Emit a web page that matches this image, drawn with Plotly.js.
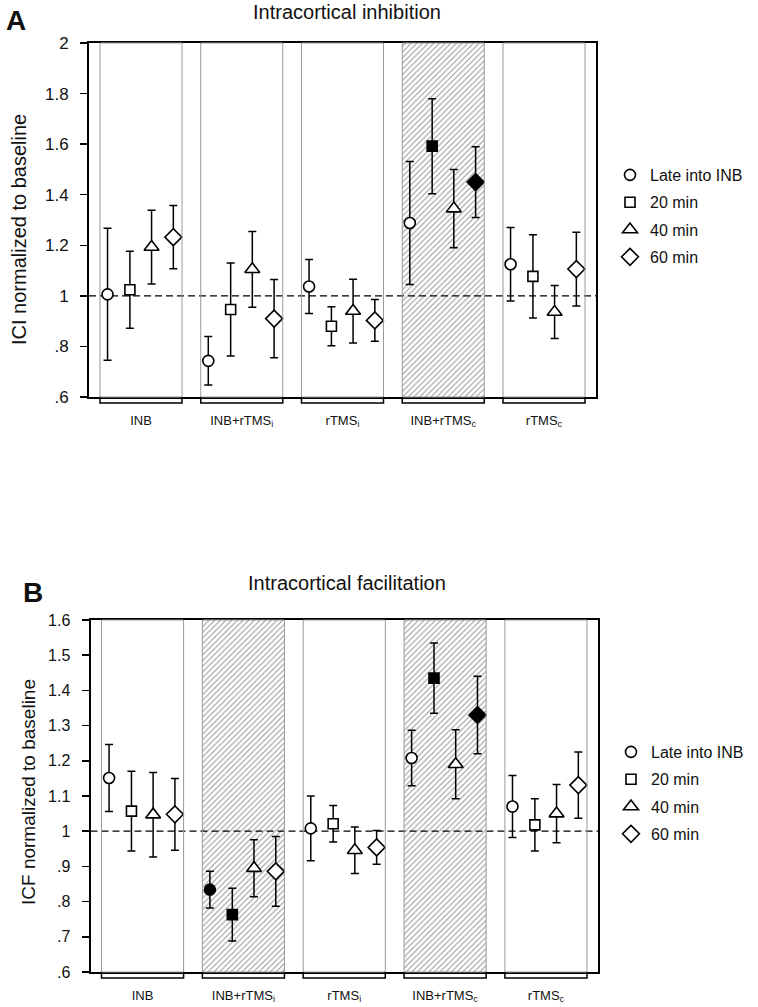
<!DOCTYPE html>
<html><head><meta charset="utf-8">
<script src="https://cdn.plot.ly/plotly-3.0.1.min.js"></script>
<style>body{margin:0;background:#fff}#chart{width:758px;height:1007px}</style>
</head><body><div id="chart"></div>
<script>
// ---------- DATA ----------
const groups = ['INB', 'INB+rTMS<sub>i</sub>', 'rTMS<sub>i</sub>', 'INB+rTMS<sub>c</sub>', 'rTMS<sub>c</sub>'];
const seriesNames = ['Late into INB', '20 min', '40 min', '60 min'];

// Panel A: Intracortical inhibition (ICI normalized to baseline)
const iciLate   = [1.006, 0.743, 1.037, 1.288, 1.125];
const iciLateSE = [0.261, 0.096, 0.107, 0.243, 0.145];
const ici20     = [1.024, 0.946, 0.880, 1.592, 1.077];
const ici20SE   = [0.152, 0.184, 0.077, 0.188, 0.165];
const ici40     = [1.193, 1.105, 0.940, 1.345, 0.936];
const ici40SE   = [0.146, 0.150, 0.126, 0.155, 0.105];
const ici60     = [1.232, 0.910, 0.903, 1.450, 1.106];
const ici60SE   = [0.125, 0.155, 0.083, 0.140, 0.146];
// significant (filled) points
const iciSigLate = [0, 0, 0, 0, 0];
const iciSig20   = [0, 0, 0, 1, 0];
const iciSig40   = [0, 0, 0, 0, 0];
const iciSig60   = [0, 0, 0, 1, 0];
const iciHatched = [0, 0, 0, 1, 0];

// Panel B: Intracortical facilitation (ICF normalized to baseline)
const icfLate   = [1.151, 0.834, 1.008, 1.208, 1.070];
const icfLateSE = [0.095, 0.052, 0.092, 0.079, 0.088];
const icf20     = [1.057, 0.763, 1.021, 1.435, 1.018];
const icf20SE   = [0.113, 0.075, 0.052, 0.100, 0.074];
const icf40     = [1.047, 0.895, 0.946, 1.190, 1.050];
const icf40SE   = [0.120, 0.081, 0.066, 0.098, 0.083];
const icf60     = [1.048, 0.886, 0.954, 1.330, 1.131];
const icf60SE   = [0.102, 0.099, 0.048, 0.110, 0.094];
const icfSigLate = [0, 1, 0, 0, 0];
const icfSig20   = [0, 1, 0, 1, 0];
const icfSig40   = [0, 0, 0, 0, 0];
const icfSig60   = [0, 0, 0, 1, 0];
const icfHatched = [0, 1, 0, 1, 0];

const iciTickVals = [0.6, 0.8, 1, 1.2, 1.4, 1.6, 1.8, 2];
const iciTickText = ['.6', '.8', '1', '1.2', '1.4', '1.6', '1.8', '2'];
const icfTickVals = [0.6, 0.7, 0.8, 0.9, 1, 1.1, 1.2, 1.3, 1.4, 1.5, 1.6];
const icfTickText = ['.6', '.7', '.8', '.9', '1', '1.1', '1.2', '1.3', '1.4', '1.5', '1.6'];

// ---------- STYLE / LAYOUT ----------
const FONT = 'Arial, "Liberation Sans", Helvetica, sans-serif';
const W = 0.814;                       // group box width (in group units)
const offs = [0.075, 0.297, 0.512, 0.728];
const symbols = ['circle', 'square', 'triangle-up', 'diamond'];
const sizes = [11, 10, 13, 13];
const XR = [-0.109, 4.923];
const PW = 758, PH = 1007;

function panel(opts) {
  const {means, errs, sig, hatched, yr, xa, ya, legendId} = opts;
  const traces = [];
  const hx = [];
  hatched.forEach((h, g) => { if (h) hx.push(g + W / 2); });
  traces.push({
    type: 'bar', x: hx, y: hx.map(() => yr[1] - yr[0]), base: yr[0], width: W,
    xaxis: xa, yaxis: ya, showlegend: false, hoverinfo: 'skip',
    marker: {color: '#f8f8f8', line: {width: 0},
      pattern: {shape: '/', fgcolor: '#999999', size: 4, solidity: 0.28}}
  });
  traces.push({
    type: 'scatter', mode: 'lines', x: XR, y: [1, 1], xaxis: xa, yaxis: ya,
    showlegend: false, hoverinfo: 'skip',
    line: {color: 'black', width: 1.2, dash: '7px,4px'}
  });
  means.forEach((m, s) => {
    traces.push({
      type: 'scatter', mode: 'markers', name: seriesNames[s],
      x: m.map((_, g) => g + offs[s]), y: m, xaxis: xa, yaxis: ya,
      legend: legendId, legendgroup: legendId + s,
      error_y: {type: 'data', array: errs[s], visible: true, color: 'black', thickness: 1.5, width: 4},
      marker: {symbol: symbols[s], size: sizes[s],
        color: sig[s].map(f => f ? 'black' : 'white'),
        line: {color: 'black', width: 1.6}}
    });
  });
  return traces;
}

const traces = [].concat(
  panel({means: [iciLate, ici20, ici40, ici60], errs: [iciLateSE, ici20SE, ici40SE, ici60SE],
    sig: [iciSigLate, iciSig20, iciSig40, iciSig60], hatched: iciHatched, yr: [0.6, 2],
    xa: 'x', ya: 'y', legendId: 'legend'}),
  panel({means: [icfLate, icf20, icf40, icf60], errs: [icfLateSE, icf20SE, icf40SE, icf60SE],
    sig: [icfSigLate, icfSig20, icfSig40, icfSig60], hatched: icfHatched, yr: [0.6, 1.6],
    xa: 'x2', ya: 'y2', legendId: 'legend2'})
);

const domA = {x: [89 / PW, 596 / PW], y: [1 - 397 / PH, 1 - 43 / PH]};
const domB = {x: [90.5 / PW, 598 / PW], y: [1 - 972 / PH, 1 - 620 / PH]};

function xaxisDef(dom, anchor) {
  return {domain: dom, anchor: anchor, range: XR, showgrid: false, zeroline: false,
    showline: true, linecolor: 'black', linewidth: 2, mirror: true, ticks: '',
    tickvals: groups.map((_, g) => g + W / 2), ticktext: groups, ticklabelstandoff: 10,
    tickfont: {family: FONT, size: 13, color: '#111'}, fixedrange: true};
}
function yaxisDef(dom, anchor, yr, tv, tt, fs) {
  return {domain: dom, anchor: anchor, range: yr, showgrid: false, zeroline: false,
    showline: true, linecolor: 'black', linewidth: 2, mirror: true,
    ticks: 'outside', ticklen: 7, tickwidth: 1.5, tickcolor: 'black',
    tickvals: tv, ticktext: tt, ticklabelstandoff: 8,
    tickfont: {family: FONT, size: fs, color: '#111'}, fixedrange: true};
}

const shapes = [];
function addPanelShapes(xa, ya, dom) {
  groups.forEach((_, g) => {
    shapes.push({type: 'rect', xref: xa, yref: ya + ' domain', x0: g, x1: g + W, y0: 0, y1: 1,
      line: {color: '#9a9a9a', width: 1}, fillcolor: 'rgba(0,0,0,0)', layer: 'above'});
    const d0 = dom.y[0], d1 = dom.y[0] - 6 / PH;
    shapes.push({type: 'path', xref: xa, yref: 'paper',
      path: `M ${g},${d0} L ${g},${d1} L ${g + W},${d1} L ${g + W},${d0}`,
      line: {color: 'black', width: 1.5}, layer: 'above'});
  });
}
addPanelShapes('x', 'y', domA);
addPanelShapes('x2', 'y2', domB);

const ann = (text, x, y, size, extra) => Object.assign({text, xref: 'paper', yref: 'paper',
  x: x / PW, y: 1 - y / PH, showarrow: false, xanchor: 'center', yanchor: 'middle',
  font: {family: FONT, size, color: '#111'}}, extra || {});

const annotations = [
  ann('<b>A</b>', 16, 20, 28),
  ann('<b>B</b>', 33, 592, 28),
  ann('Intracortical inhibition', 347, 12, 20),
  ann('Intracortical facilitation', 347, 583, 20),
  ann('ICI normalized to baseline', 19, 230, 20, {textangle: -90}),
  ann('ICF normalized to baseline', 28, 792, 19, {textangle: -90})
];

const legendBase = {xanchor: 'left', yanchor: 'top', bgcolor: 'rgba(0,0,0,0)',
  font: {family: FONT, size: 16, color: '#111'}, tracegroupgap: 3.5, itemclick: false, itemdoubleclick: false};

const layout = {
  width: PW, height: PH, margin: {l: 0, r: 0, t: 0, b: 0},
  paper_bgcolor: 'white', plot_bgcolor: 'white',
  showlegend: true, bargap: 0,
  xaxis: xaxisDef(domA.x, 'y'),
  yaxis: yaxisDef(domA.y, 'x', [0.6, 2], iciTickVals, iciTickText, 17),
  xaxis2: xaxisDef(domB.x, 'y2'),
  yaxis2: yaxisDef(domB.y, 'x2', [0.6, 1.6], icfTickVals, icfTickText, 16),
  legend: Object.assign({x: 610 / PW, y: 1 - 158 / PH}, legendBase),
  legend2: Object.assign({x: 611 / PW, y: 1 - 735 / PH}, legendBase),
  shapes, annotations
};

Plotly.newPlot('chart', traces, layout, {displayModeBar: false, staticPlot: true});
</script>
</body></html>
